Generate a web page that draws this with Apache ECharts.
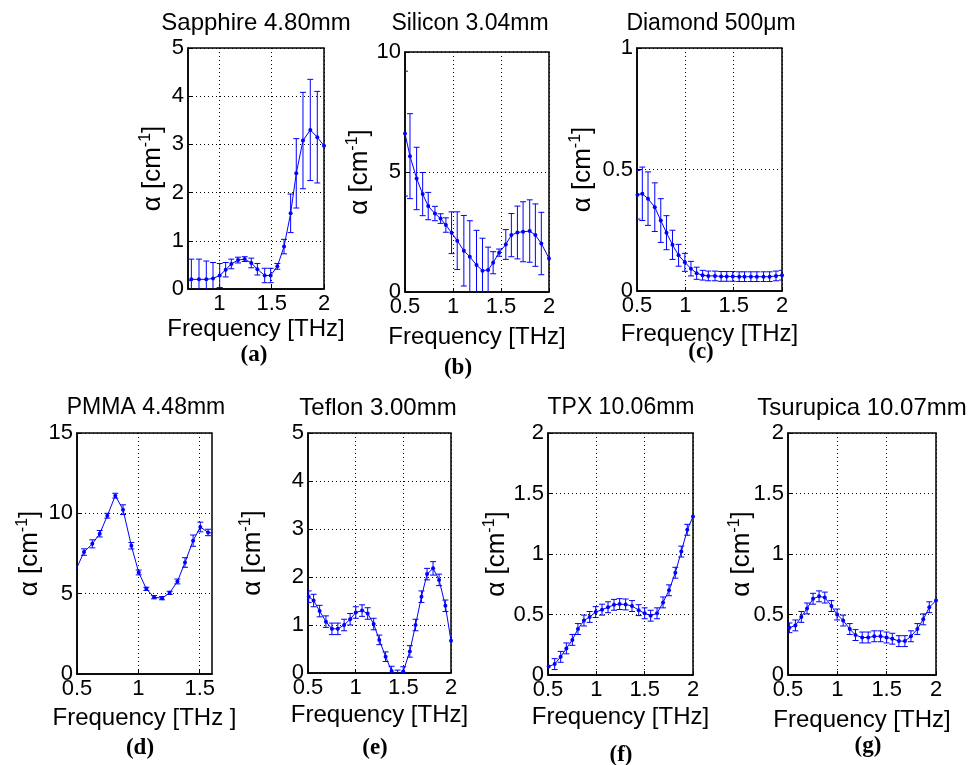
<!DOCTYPE html>
<html><head><meta charset="utf-8">
<script src="https://cdn.jsdelivr.net/npm/echarts@6/dist/echarts.min.js"></script>
<style>html,body{margin:0;padding:0;background:#fff}#c{width:970px;height:765px}</style>
</head><body><div id="c"></div>
<script>
// ---------------- data ----------------
const sapphireFreq  = [0.67, 0.732, 0.805, 0.875, 0.939, 1.003, 1.06, 1.114, 1.178, 1.242, 1.305, 1.363, 1.433, 1.49, 1.554, 1.618, 1.681, 1.735, 1.799, 1.869, 1.936, 2.0];
const sapphireAlpha = [0.1, 0.2, 0.2, 0.2, 0.22, 0.28, 0.4, 0.52, 0.6, 0.62, 0.54, 0.41, 0.28, 0.28, 0.47, 0.88, 1.57, 2.4, 3.08, 3.3, 3.15, 2.97];
const sapphireErr   = [0, 0.42, 0.42, 0.38, 0.33, 0.25, 0.15, 0.1, 0.06, 0.05, 0.1, 0.12, 0.15, 0.15, 0.06, 0.15, 0.4, 0.72, 1.0, 1.05, 0.95, 0];

const siliconFreq  = [0.5, 0.552, 0.621, 0.684, 0.742, 0.812, 0.871, 0.926, 0.985, 1.044, 1.113, 1.175, 1.245, 1.307, 1.366, 1.418, 1.48, 1.55, 1.608, 1.671, 1.73, 1.799, 1.858, 1.92, 2.0];
const siliconAlpha = [6.6, 5.66, 4.73, 4.08, 3.58, 3.27, 3.06, 2.79, 2.47, 2.14, 1.72, 1.47, 1.12, 0.89, 0.92, 1.22, 1.64, 1.98, 2.37, 2.48, 2.51, 2.54, 2.37, 2.02, 1.4];
const siliconErr   = [2.6, 1.77, 1.3, 0.9, 0.57, 0.3, 0.2, 0.3, 0.87, 1.2, 1.47, 1.5, 1.45, 1.35, 0.95, 0.46, 0.15, 0.62, 0.9, 1.1, 1.25, 1.3, 1.3, 1.3, 0];

const diamondFreq  = [0.505, 0.555, 0.614, 0.684, 0.746, 0.805, 0.867, 0.93, 0.995, 1.058, 1.117, 1.179, 1.238, 1.307, 1.37, 1.428, 1.491, 1.557, 1.612, 1.678, 1.74, 1.809, 1.872, 1.938, 2.0];
const diamondAlpha = [0.396, 0.4, 0.38, 0.345, 0.29, 0.24, 0.19, 0.147, 0.118, 0.092, 0.073, 0.065, 0.062, 0.062, 0.06, 0.06, 0.06, 0.059, 0.059, 0.059, 0.059, 0.059, 0.059, 0.062, 0.065];
const diamondErr   = [0.1, 0.11, 0.11, 0.1, 0.09, 0.07, 0.06, 0.045, 0.037, 0.03, 0.025, 0.02, 0.02, 0.02, 0.02, 0.02, 0.02, 0.02, 0.02, 0.02, 0.02, 0.02, 0.02, 0.02, 0.02];

const pmmaFreq  = [0.495, 0.557, 0.625, 0.685, 0.747, 0.812, 0.875, 0.943, 1.003, 1.065, 1.128, 1.193, 1.255, 1.318, 1.38, 1.446, 1.505, 1.568, 1.63];
const pmmaAlpha = [6.55, 7.59, 8.1, 8.73, 9.85, 11.1, 10.23, 7.98, 6.32, 5.3, 4.78, 4.72, 5.05, 5.76, 6.94, 8.3, 9.15, 8.81, 8.73];
const pmmaErr   = [0, 0.2, 0.25, 0.2, 0.15, 0.15, 0.3, 0.2, 0.15, 0.1, 0.1, 0.1, 0.1, 0.15, 0.3, 0.35, 0.3, 0.2, 0];

const teflonFreq  = [0.507, 0.559, 0.622, 0.688, 0.751, 0.813, 0.879, 0.942, 1.001, 1.067, 1.126, 1.189, 1.248, 1.314, 1.377, 1.44, 1.499, 1.568, 1.628, 1.69, 1.749, 1.812, 1.875, 1.941, 2.0];
const teflonAlpha = [1.59, 1.51, 1.29, 1.07, 0.92, 0.92, 1.0, 1.12, 1.26, 1.3, 1.24, 1.02, 0.69, 0.34, 0.04, -0.04, 0.03, 0.45, 1.0, 1.59, 2.06, 2.18, 1.94, 1.4, 0.67];
const teflonErr   = [0.12, 0.13, 0.12, 0.12, 0.12, 0.12, 0.12, 0.12, 0.12, 0.12, 0.12, 0.12, 0.1, 0.1, 0.1, 0.1, 0.1, 0.12, 0.12, 0.12, 0.12, 0.14, 0.12, 0.12, 0];

const tpxFreq  = [0.507, 0.569, 0.631, 0.69, 0.752, 0.81, 0.872, 0.931, 0.993, 1.059, 1.121, 1.183, 1.241, 1.303, 1.369, 1.438, 1.5, 1.562, 1.628, 1.69, 1.752, 1.817, 1.879, 1.941, 2.0];
const tpxAlpha = [0.07, 0.09, 0.15, 0.22, 0.29, 0.38, 0.45, 0.48, 0.52, 0.54, 0.56, 0.58, 0.586, 0.583, 0.57, 0.536, 0.51, 0.49, 0.51, 0.6, 0.7, 0.845, 1.02, 1.2, 1.31];
const tpxErr   = [0, 0.045, 0.045, 0.045, 0.045, 0.045, 0.045, 0.045, 0.045, 0.045, 0.045, 0.045, 0.045, 0.045, 0.045, 0.045, 0.045, 0.045, 0.045, 0.045, 0.045, 0.045, 0.045, 0.045, 0];

const tsurupicaFreq  = [0.514, 0.575, 0.635, 0.693, 0.754, 0.815, 0.873, 0.94, 0.998, 1.059, 1.126, 1.184, 1.252, 1.313, 1.374, 1.438, 1.499, 1.557, 1.624, 1.685, 1.746, 1.811, 1.871, 1.932, 2.0];
const tsurupicaAlpha = [0.39, 0.41, 0.48, 0.55, 0.63, 0.65, 0.64, 0.57, 0.5, 0.45, 0.38, 0.33, 0.31, 0.31, 0.32, 0.32, 0.31, 0.3, 0.28, 0.28, 0.32, 0.38, 0.46, 0.56, 0.615];
const tsurupicaErr   = [0.04, 0.045, 0.045, 0.045, 0.045, 0.045, 0.045, 0.045, 0.045, 0.045, 0.045, 0.045, 0.045, 0.045, 0.045, 0.045, 0.045, 0.045, 0.045, 0.045, 0.045, 0.045, 0.045, 0.045, 0];

const xTicksA = [1, 1.5, 2];
const xTicksStd = [0.5, 1, 1.5, 2];
const xTicksPmma = [0.5, 1, 1.5];
const yTicks5 = [0, 1, 2, 3, 4, 5];
const yTicks10 = [0, 5, 10];
const yTicks1 = [0, 0.5, 1];
const yTicks15 = [0, 5, 10, 15];
const yTicks2 = [0, 0.5, 1, 1.5, 2];

const titles = ['Sapphire 4.80mm', 'Silicon 3.04mm', 'Diamond 500\u03bcm', 'PMMA 4.48mm', 'Teflon 3.00mm', 'TPX 10.06mm', 'Tsurupica 10.07mm'];
const letters = ['(a)', '(b)', '(c)', '(d)', '(e)', '(f)', '(g)'];
const xNames = ['Frequency [THz]', 'Frequency [THz]', 'Frequency [THz]', 'Frequency [THz ]', 'Frequency [THz]', 'Frequency [THz]', 'Frequency [THz]'];

// ---------------- layout ----------------
const BLUE = '#0000ff';
const FONT = '"Liberation Sans", Arial, sans-serif';
const panels = [
  {f: sapphireFreq, a: sapphireAlpha, e: sapphireErr, box: [188, 48, 136, 241], xr: [0.7, 2], xt: xTicksA, yr: [0, 5], yt: yTicks5, xGap: 28, yGap: 22, title: [256, 23], tfs: 24, letter: [254, 355]},
  {f: siliconFreq, a: siliconAlpha, e: siliconErr, box: [405, 52, 144, 240], xr: [0.5, 2], xt: xTicksStd, yr: [0, 10], yt: yTicks10, xGap: 33, yGap: 32, title: [470, 24], tfs: 23, letter: [458, 368]},
  {f: diamondFreq, a: diamondAlpha, e: diamondErr, box: [637, 48, 145, 243], xr: [0.5, 2], xt: xTicksStd, yr: [0, 1], yt: yTicks1, xGap: 31, yGap: 41, title: [711, 24], tfs: 23, letter: [701, 352]},
  {f: pmmaFreq, a: pmmaAlpha, e: pmmaErr, box: [77, 433, 135, 241], xr: [0.5, 1.6], xt: xTicksPmma, yr: [0, 15], yt: yTicks15, xGap: 32, yGap: 34, title: [146, 408], tfs: 23, letter: [140, 748]},
  {f: teflonFreq, a: teflonAlpha, e: teflonErr, box: [308, 433, 143, 240], xr: [0.5, 2], xt: xTicksStd, yr: [0, 5], yt: yTicks5, xGap: 30, yGap: 42, title: [378, 408], tfs: 24, letter: [375, 748]},
  {f: tpxFreq, a: tpxAlpha, e: tpxErr, box: [548, 433, 145, 242], xr: [0.5, 2], xt: xTicksStd, yr: [0, 2], yt: yTicks2, xGap: 30, yGap: 38, title: [621, 408], tfs: 23, letter: [621, 755]},
  {f: tsurupicaFreq, a: tsurupicaAlpha, e: tsurupicaErr, box: [788, 433, 148, 242], xr: [0.5, 2], xt: xTicksStd, yr: [0, 2], yt: yTicks2, xGap: 33, yGap: 33, title: [862, 408], tfs: 24, letter: [868, 746]}
];

function errRender(params, api) {
  const x = api.value(0), lo = api.value(1), hi = api.value(2);
  const p1 = api.coord([x, lo]), p2 = api.coord([x, hi]);
  const w = 3;
  const style = {stroke: BLUE, lineWidth: 1};
  return {type: 'group', children: [
    {type: 'line', shape: {x1: p1[0], y1: p1[1], x2: p2[0], y2: p2[1]}, style},
    {type: 'line', shape: {x1: p1[0] - w, y1: p1[1], x2: p1[0] + w, y2: p1[1]}, style},
    {type: 'line', shape: {x1: p2[0] - w, y1: p2[1], x2: p2[0] + w, y2: p2[1]}, style}
  ]};
}

const grid = [], xAxis = [], yAxis = [], series = [], graphic = [];
const gridLine = {show: true, lineStyle: {type: [1, 3], color: '#000', width: 1}};
panels.forEach((p, i) => {
  grid.push({left: p.box[0], top: p.box[1], width: p.box[2], height: p.box[3], show: true, borderColor: '#000', borderWidth: 1.5, containLabel: false, outerBoundsMode: 'none'});
  xAxis.push({
    type: 'value', gridIndex: i, min: p.xr[0], max: p.xr[1],
    axisLine: {show: true, onZero: false, lineStyle: {color: '#000', width: 1.5}},
    axisTick: {show: true, inside: true, length: 4, customValues: p.xt, lineStyle: {color: '#000'}},
    axisLabel: {customValues: p.xt, margin: 4, color: '#000', fontSize: 22, fontFamily: FONT, hideOverlap: false, showMinLabel: true, showMaxLabel: true},
    splitLine: gridLine,
    name: xNames[i], nameLocation: 'middle', nameGap: p.xGap, nameMoveOverlap: false,
    nameTextStyle: {color: '#000', fontSize: 24, fontFamily: FONT}
  });
  yAxis.push({
    type: 'value', gridIndex: i, min: p.yr[0], max: p.yr[1],
    axisLine: {show: true, onZero: false, lineStyle: {color: '#000', width: 1.5}},
    axisTick: {show: true, inside: true, length: 4, customValues: p.yt, lineStyle: {color: '#000'}},
    axisLabel: {customValues: p.yt, margin: 4, color: '#000', fontSize: 22, fontFamily: FONT, hideOverlap: false, showMinLabel: true, showMaxLabel: true},
    splitLine: gridLine,
    name: '{a|\u03b1 [cm}{s|-1}{a|]}', nameLocation: 'middle', nameRotate: 90, nameGap: p.yGap - 1, nameMoveOverlap: false,
    nameTextStyle: {color: '#000', fontFamily: FONT, rich: {
      a: {fontSize: 26, fontFamily: FONT, color: '#000', lineHeight: 29},
      s: {fontSize: 16, fontFamily: FONT, color: '#000', lineHeight: 14, verticalAlign: 'top'}
    }}
  });
  series.push({
    type: 'line', xAxisIndex: i, yAxisIndex: i, clip: true,
    data: p.f.map((f, k) => [f, p.a[k]]),
    symbol: 'circle', symbolSize: 4, showSymbol: true,
    lineStyle: {color: BLUE, width: 1}, itemStyle: {color: BLUE},
    emphasis: {disabled: true}, silent: true, animation: false, z: 3
  });
  series.push({
    type: 'custom', xAxisIndex: i, yAxisIndex: i, clip: true,
    data: p.f.map((f, k) => [f, p.a[k] - p.e[k], p.a[k] + p.e[k]]).filter((d, k) => p.e[k] > 0),
    encode: {x: 0, y: [1, 2]},
    renderItem: errRender, silent: true, animation: false, z: 4
  });
  graphic.push({type: 'text', x: p.title[0], y: p.title[1], style: {text: titles[i], fill: '#000', font: p.tfs + 'px ' + FONT, textAlign: 'center', textVerticalAlign: 'middle'}});
  graphic.push({type: 'text', x: p.letter[0], y: p.letter[1], style: {text: letters[i], fill: '#000', font: 'bold 23px "Liberation Serif", "Times New Roman", serif', textAlign: 'center', textVerticalAlign: 'middle'}});
});

const chart = echarts.init(document.getElementById('c'), null, {renderer: 'canvas'});
chart.setOption({
  animation: false,
  backgroundColor: '#fff',
  grid, xAxis, yAxis, series, graphic
});
</script>
</body></html>
